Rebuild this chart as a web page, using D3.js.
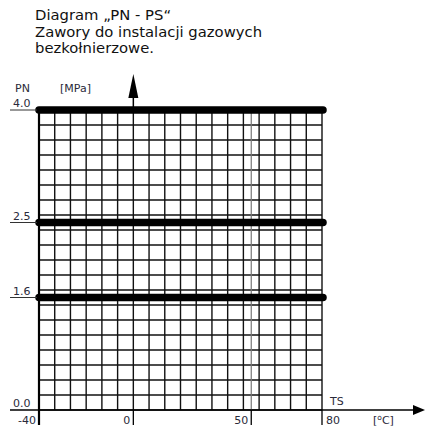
<!DOCTYPE html>
<meta charset="utf-8">
<style>
body { margin: 0; background: #fff; }
.title { font-family: "DejaVu Sans", sans-serif; font-size: 14.8px; fill: #111; }
.lab { font-family: "DejaVu Sans", sans-serif; font-size: 11px; fill: #2a2a3a; }
</style>
<svg width="425" height="430"></svg>
<script src="https://d3js.org/d3.v7.min.js"></script>
<script>
var titleLines = ["Diagram \u201ePN - PS\u201c", "Zawory do instalacji gazowych", "bezkołnierzowe."];
var pnLevels = [4.0, 2.5, 1.6];       // thick lines
var pnLabels = ["0.0", "1.6", "2.5", "4.0"];
var pnTicks = [0, 1.6, 2.5, 4.0];
var tsTicks = [-40, 0, 50, 80];
var tsLabels = ["-40", "0", "50", "80"];
var tsDomain = [-40, 80];
var pnMax = 4.0;
var pnStep = 0.2;   // grid row
var colCount = 18;  // grid columns

var svg = d3.select("svg");

var pLeft = 39, pRight = 322, pTop = 110, pBottom = 410;

var x = d3.scaleLinear().domain(tsDomain).range([pLeft, pRight]);
// schematic pressure axis (drawing is not linear at 1.6)
var yFrac = [0, 0.375, 0.625, 1];
var y = d3.scaleLinear().domain(pnTicks)
  .range(yFrac.map(f => pBottom - f * (pBottom - pTop)));
var yGrid = d3.scaleLinear().domain([0, pnMax]).range([pBottom, pTop]);

// title
svg.append("g").selectAll("text")
  .data(titleLines)
  .enter().append("text")
    .attr("class", "title")
    .attr("x", 35)
    .attr("y", (d, i) => 20 + i * 16.5)
    .text(d => d);

// grid rows
var rows = d3.range(0, pnMax + 1e-6, pnStep);
svg.append("g").selectAll("line")
  .data(rows)
  .enter().append("line")
    .attr("x1", pLeft).attr("x2", pRight)
    .attr("y1", d => yGrid(d)).attr("y2", d => yGrid(d))
    .attr("stroke", "#111").attr("stroke-width", 1.4);

// grid columns
var cols = d3.range(colCount + 1).map(i => tsDomain[0] + i * (tsDomain[1] - tsDomain[0]) / colCount);
svg.append("g").selectAll("line")
  .data(cols)
  .enter().append("line")
    .attr("x1", d => x(d)).attr("x2", d => x(d))
    .attr("y1", pTop).attr("y2", pBottom)
    .attr("stroke", "#111").attr("stroke-width", 1.4);

// extra line at 50
svg.append("line")
  .attr("x1", x(50)).attr("x2", x(50))
  .attr("y1", pTop).attr("y2", pBottom)
  .attr("stroke", "#777").attr("stroke-width", 1.2);

// left border, heavier
svg.append("line")
  .attr("x1", pLeft).attr("x2", pLeft)
  .attr("y1", pTop).attr("y2", pBottom + 15)
  .attr("stroke", "#000").attr("stroke-width", 2.2);

// x ticks
svg.append("g").selectAll("line")
  .data(tsTicks.slice(1))
  .enter().append("line")
    .attr("x1", d => x(d)).attr("x2", d => x(d))
    .attr("y1", pBottom).attr("y2", pBottom + 15)
    .attr("stroke", "#000").attr("stroke-width", 1.3);

// thick PN lines
svg.append("g").selectAll("line")
  .data(pnLevels)
  .enter().append("line")
    .attr("x1", pLeft).attr("x2", pRight + 1)
    .attr("y1", d => y(d)).attr("y2", d => y(d))
    .attr("stroke", "#000").attr("stroke-width", 7.5)
    .attr("stroke-linecap", "round");

// y label underlines + labels
svg.append("g").selectAll("line")
  .data(pnTicks.slice(1))
  .enter().append("line")
    .attr("x1", 10).attr("x2", pLeft - 2)
    .attr("y1", d => y(d)).attr("y2", d => y(d))
    .attr("stroke", "#333").attr("stroke-width", 1);
svg.append("g").selectAll("text")
  .data(pnTicks)
  .enter().append("text")
    .attr("class", "lab")
    .attr("x", 13)
    .attr("y", d => y(d) - 3)
    .text((d, i) => pnLabels[i]);

// x tick labels
svg.append("g").selectAll("text")
  .data(tsTicks)
  .enter().append("text")
    .attr("class", "lab")
    .attr("x", (d, i) => i == 3 ? x(d) + 4 : x(d) - 3)
    .attr("y", pBottom + 14)
    .attr("text-anchor", (d, i) => i == 3 ? "start" : "end")
    .text((d, i) => tsLabels[i]);

// x axis with arrow
svg.append("line")
  .attr("x1", 10).attr("x2", 414)
  .attr("y1", pBottom).attr("y2", pBottom)
  .attr("stroke", "#000").attr("stroke-width", 1.5);
svg.append("path")
  .attr("d", d3.line()([[413, pBottom - 5], [425, pBottom], [413, pBottom + 5]]) + "Z")
  .attr("fill", "#000");

// y axis arrow at 0
svg.append("line")
  .attr("x1", x(0)).attr("x2", x(0))
  .attr("y1", pTop).attr("y2", 95)
  .attr("stroke", "#000").attr("stroke-width", 1.5);
svg.append("path")
  .attr("d", d3.line()([[x(0) - 5, 98], [x(0), 74], [x(0) + 5, 98]]) + "Z")
  .attr("fill", "#000");

// axis names
svg.append("text").attr("class", "lab").attr("x", 15).attr("y", 92).text("PN");
svg.append("text").attr("class", "lab").attr("x", 60).attr("y", 92).text("[MPa]");
svg.append("text").attr("class", "lab").attr("x", 330).attr("y", 405).text("TS");
var c = svg.append("text").attr("class", "lab").attr("x", 373).attr("y", pBottom + 14).text("[");
c.append("tspan").attr("dy", -4).attr("font-size", "7.5px").text("o");
c.append("tspan").attr("dy", 4).text("C]");
</script>
